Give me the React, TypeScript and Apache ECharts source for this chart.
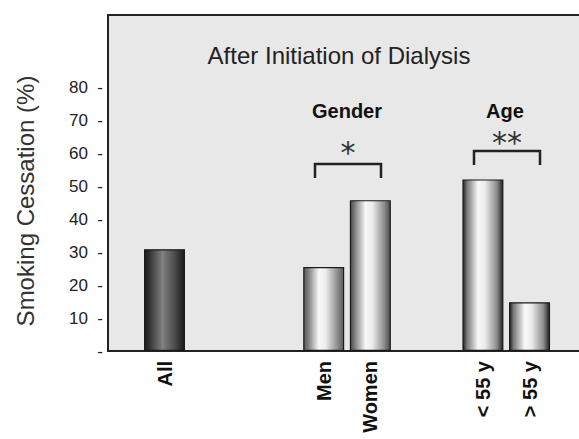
import React, { useEffect, useRef } from "react";
import * as echarts from "echarts";

const categories = ["All", "Men", "Women", "< 55 y", "> 55 y"];
const cessation = [30.9, 25.5, 45.8, 52.1, 14.8];
const yTicks = [0, 10, 20, 30, 40, 50, 60, 70, 80];

// layout (x slot positions on a 0..10 hidden value scale)
const slotPos = [1.2, 4.58, 5.57, 7.96, 8.95];
const FONT = "'Liberation Sans', Arial, sans-serif";

const darkGrad = () =>
  new echarts.graphic.LinearGradient(0, 0, 1, 0, [
    { offset: 0, color: "#1a1a1a" },
    { offset: 0.12, color: "#333333" },
    { offset: 0.45, color: "#808080" },
    { offset: 0.78, color: "#474747" },
    { offset: 1, color: "#1a1a1a" },
  ]);
const lightGrad = (edge: string) =>
  new echarts.graphic.LinearGradient(0, 0, 1, 0, [
    { offset: 0, color: edge },
    { offset: 0.1, color: "#7a7a7a" },
    { offset: 0.38, color: "#f8f8f8" },
    { offset: 0.55, color: "#ececec" },
    { offset: 0.85, color: "#8c8c8c" },
    { offset: 1, color: edge },
  ]);

export default function App() {
  const ref = useRef<HTMLDivElement>(null);
  useEffect(() => {
    if (!ref.current) return;
    const chart = echarts.init(ref.current, undefined, { renderer: "svg" });
    const fills = [darkGrad(), lightGrad("#5a5a5a"), lightGrad("#4a4a4a"), lightGrad("#222222"), lightGrad("#222222")];
    chart.setOption({
      animation: false,
      grid: {
        left: 108,
        top: 15,
        right: 0,
        bottom: 88,
        show: true,
        backgroundColor: "#e8e8e8",
        borderWidth: 0,
      },
      xAxis: [
        {
          type: "value",
          min: 0,
          max: 10,
          splitLine: { show: false },
          axisTick: { show: false },
          axisLine: { show: true, onZero: false, lineStyle: { color: "#222", width: 2 } },
          axisLabel: {
            customValues: slotPos,
            rotate: 90,
            margin: 10,
            fontFamily: FONT,
            fontSize: 20,
            fontWeight: "bold",
            color: "#111",
            formatter: (v: number) => {
              let best = 0;
              slotPos.forEach((p, i) => {
                if (Math.abs(p - v) < Math.abs(slotPos[best] - v)) best = i;
              });
              return categories[best];
            },
          },
        },
        {
          type: "value",
          position: "top",
          min: 0,
          max: 10,
          splitLine: { show: false },
          axisTick: { show: false },
          axisLabel: { show: false },
          axisLine: { show: true, onZero: false, lineStyle: { color: "#222", width: 2 } },
        },
      ],
      yAxis: {
        type: "value",
        min: 0,
        max: 102,
        interval: 10,
        splitLine: { show: false },
        axisTick: { show: false },
        axisLine: { show: true, onZero: false, lineStyle: { color: "#222", width: 2 } },
        axisLabel: {
          margin: 5,
          fontFamily: FONT,
          fontSize: 17,
          color: "#222",
          formatter: (v: number) => {
            if (!yTicks.includes(v)) return "";
            return v === 0 ? "-" : `${v}  -`;
          },
        },
      },
      series: [
        {
          type: "bar",
          barWidth: 41,
          data: cessation.map((v, i) => ({
            value: [slotPos[i], v],
            itemStyle: { color: fills[i], borderColor: "#1a1a1a", borderWidth: 1.2 },
          })),
        },
      ],
      graphic: [
        {
          type: "text",
          x: 339,
          y: 55,
          style: {
            text: "After Initiation of Dialysis",
            font: `24px ${FONT}`,
            fill: "#222",
            align: "center",
            verticalAlign: "middle",
          },
        },
        {
          type: "text",
          x: 25,
          y: 201,
          rotation: Math.PI / 2,
          style: {
            text: "Smoking Cessation (%)",
            font: `24px ${FONT}`,
            fill: "#333",
            align: "center",
            verticalAlign: "middle",
          },
        },
        {
          type: "text",
          x: 347,
          y: 111,
          style: { text: "Gender", font: `bold 20px ${FONT}`, fill: "#111", align: "center", verticalAlign: "middle" },
        },
        {
          type: "text",
          x: 505,
          y: 111,
          style: { text: "Age", font: `bold 20px ${FONT}`, fill: "#111", align: "center", verticalAlign: "middle" },
        },
        {
          type: "text",
          x: 348,
          y: 152,
          style: { text: "*", font: `30px 'DejaVu Sans', sans-serif`, fill: "#333", align: "center", verticalAlign: "middle" },
        },
        {
          type: "text",
          x: 507,
          y: 142,
          style: { text: "**", font: `30px 'DejaVu Sans', sans-serif`, fill: "#333", align: "center", verticalAlign: "middle" },
        },
        {
          type: "polyline",
          shape: { points: [[315, 178], [315, 164], [381, 164], [381, 178]] },
          style: { stroke: "#222", lineWidth: 2.5, fill: null },
        },
        {
          type: "polyline",
          shape: { points: [[474, 165], [474, 151], [540, 151], [540, 165]] },
          style: { stroke: "#222", lineWidth: 2.5, fill: null },
        },
      ],
    });
    return () => chart.dispose();
  }, []);
  return (
    <div
      ref={ref}
      style={{ position: "absolute", left: 0, top: 0, width: 579, height: 439, background: "#fff" }}
    />
  );
}
